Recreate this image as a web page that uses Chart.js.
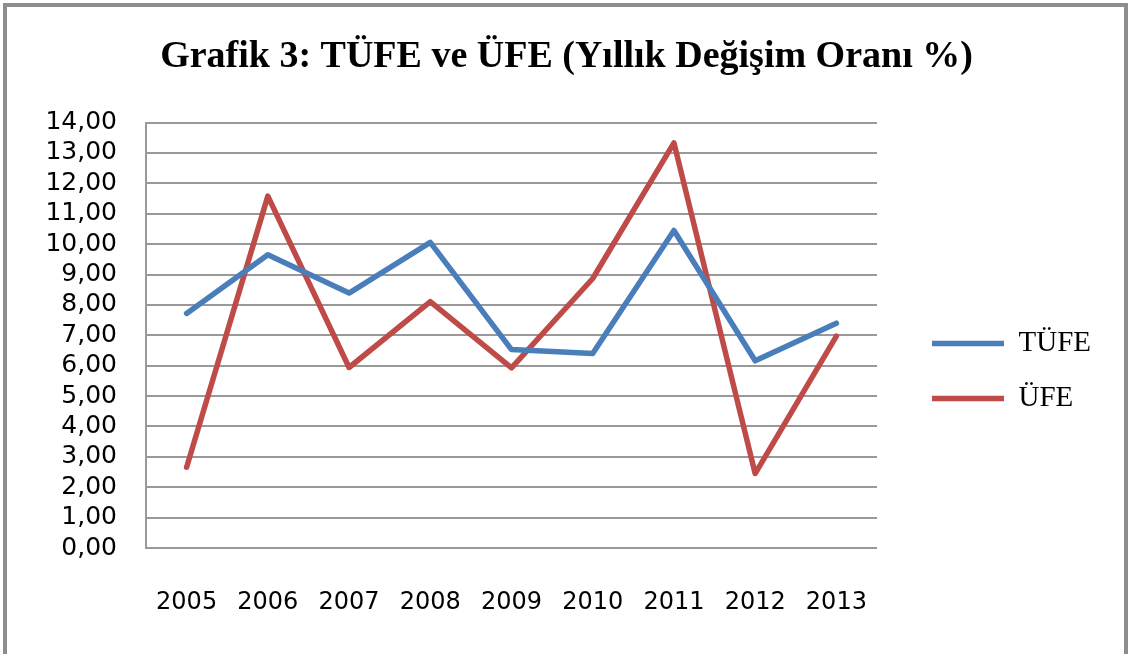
<!DOCTYPE html>
<html>
<head>
<meta charset="utf-8">
<script src="https://cdn.jsdelivr.net/npm/chart.js@4.4.0/dist/chart.umd.min.js"></script>
<style>
  html, body { margin: 0; padding: 0; background: #fff; }
  #wrap { position: relative; width: 1130px; height: 654px; overflow: hidden; }
  #frame { position: absolute; left: 3px; top: 3px; width: 1125px; height: 700px; border: 4px solid #8e8e8e; box-sizing: border-box; }
  #chart { position: absolute; left: 0; top: 0; }
</style>
</head>
<body>
<div id="wrap">
  <div id="frame"></div>
  <canvas id="chart" width="1130" height="654"></canvas>
</div>
<script>
// Veriler (yıllık değişim oranı %)
const years = ['2005', '2006', '2007', '2008', '2009', '2010', '2011', '2012', '2013'];
const tufe = [7.72, 9.65, 8.39, 10.06, 6.53, 6.40, 10.45, 6.16, 7.40];
const ufe = [2.66, 11.58, 5.94, 8.11, 5.93, 8.87, 13.33, 2.45, 6.97];
const seriesNames = ['TÜFE', 'ÜFE'];

document.addEventListener('DOMContentLoaded', () => {
    const ctx = document.getElementById('chart');

    new Chart(ctx, {
        type: 'line',
        data: {
            labels: years,
            datasets: [{
                label: seriesNames[0],
                data: tufe,
                borderColor: '#4a7ebb',
                backgroundColor: '#4a7ebb',
                borderWidth: 5.5,
                pointRadius: 0,
                tension: 0,
                borderJoinStyle: 'round',
                borderCapStyle: 'round'
            }, {
                label: seriesNames[1],
                data: ufe,
                borderColor: '#be4b48',
                backgroundColor: '#be4b48',
                borderWidth: 5.5,
                pointRadius: 0,
                tension: 0,
                borderJoinStyle: 'round',
                borderCapStyle: 'round'
            }]
        },
        options: {
            responsive: false,
            animation: false,
            layout: {
                padding: { left: 32, right: 29, top: 0, bottom: 0 }
            },
            scales: {
                x: {
                    offset: true,
                    grid: { display: false, drawTicks: false },
                    border: { display: false },
                    ticks: {
                        padding: 40,
                        maxRotation: 0,
                        color: '#000',
                        font: { family: 'DejaVu Sans', size: 24 }
                    },
                    afterFit: s => { s.height = 106; }
                },
                y: {
                    min: 0,
                    max: 14,
                    grid: { color: '#999', lineWidth: 2, drawTicks: false },
                    border: { display: true, color: '#999', width: 2 },
                    ticks: {
                        stepSize: 1,
                        autoSkip: false,
                        padding: 29,
                        color: '#000',
                        font: { family: 'DejaVu Sans', size: 25 },
                        callback: v => v.toFixed(2).replace('.', ',')
                    },
                    afterFit: s => { s.width = 114; }
                },
                // grafik ile lejant arasındaki boşluk
                gap: {
                    position: 'right',
                    grid: { display: false },
                    border: { display: false },
                    ticks: { display: false },
                    afterFit: s => { s.width = 29; }
                }
            },
            plugins: {
                title: {
                    display: true,
                    text: 'Grafik 3: TÜFE ve ÜFE (Yıllık Değişim Oranı %)',
                    color: '#000',
                    font: { family: 'Liberation Serif', size: 38, weight: 'bold' },
                    padding: { top: 34, bottom: 43 }
                },
                legend: {
                    position: 'right',
                    align: 'center',
                    maxWidth: 300,
                    title: {
                        display: true,
                        text: ' ',
                        font: { size: 10 },
                        padding: { top: 0, bottom: 76 }
                    },
                    labels: {
                        usePointStyle: true,
                        pointStyle: 'line',
                        pointStyleWidth: 72,
                        boxHeight: 6,
                        padding: 26,
                        color: '#000',
                        font: { family: 'Liberation Serif', size: 29 }
                    }
                },
                tooltip: { enabled: false }
            }
        }
    });
});
</script>
</body>
</html>
